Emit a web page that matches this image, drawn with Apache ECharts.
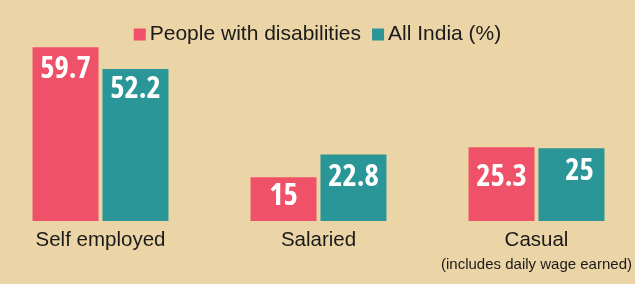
<!DOCTYPE html>
<html>
<head>
<meta charset="utf-8">
<script src="https://cdn.jsdelivr.net/npm/echarts@6/dist/echarts.min.js"></script>
<style>
html,body{margin:0;padding:0;background:#ebd4a5;}
#c{width:635px;height:284px;}
</style>
</head>
<body>
<div id="c"></div>
<script>
const categories = ['Self employed', 'Salaried', 'Casual'];
const casualNote = '(includes daily wage earned)';
const seriesNames = ['People with disabilities', 'All India (%)'];
const disabled = [59.7, 15, 25.3];
const allIndia = [52.2, 22.8, 25];

// label placement tweaks (style only): distance from bar top, horizontal offset
const labelTweaks = [
  [{d: 7, dx: 0}, {d: 3, dx: 0}, {d: 14, dx: 0}],
  [{d: 5, dx: 0}, {d: 7, dx: 0}, {d: 8, dx: 8}]
];

const chart = echarts.init(document.getElementById('c'), null, {renderer: 'canvas'});
const baseLabel = {
  show: true, position: 'insideTop', color: '#ffffff',
  fontStyle: 'condensed', fontFamily: '"Open Sans", sans-serif', fontWeight: 'bold', fontSize: 30.5
};
function buildData(values, s) {
  return values.map(function (v, i) {
    return {value: v, label: {distance: labelTweaks[s][i].d, offset: [labelTweaks[s][i].dx, 0]}};
  });
}
const font = '"Liberation Sans", Arial, sans-serif';
chart.setOption({
  backgroundColor: '#ebd4a5',
  animation: false,
  legend: {
    top: 19, left: 'center', icon: 'rect', itemWidth: 12, itemHeight: 12, itemGap: 11,
    textStyle: {fontFamily: font, fontSize: 21, color: '#1a1a1a', padding: [0, 0, 0, -1]},
    data: seriesNames
  },
  grid: {left: -8.5, width: 654, top: 46.3, height: 174.7, outerBoundsMode: 'none', containLabel: false},
  xAxis: {
    type: 'category', data: categories,
    axisLine: {show: false}, axisTick: {show: false},
    axisLabel: {
      margin: 8, interval: 0,
      formatter: function (v) {
        return v === 'Casual' ? '{a|' + v + '}\n{b|' + casualNote + '}' : '{a|' + v + '}';
      },
      rich: {
        a: {fontFamily: font, fontSize: 20.5, lineHeight: 22, color: '#1a1a1a'},
        b: {fontFamily: font, fontSize: 15, lineHeight: 27, color: '#1a1a1a'}
      }
    }
  },
  yAxis: {type: 'value', min: 0, max: 60, show: false, splitLine: {show: false}},
  series: [
    {name: seriesNames[0], type: 'bar', data: buildData(disabled, 0), barWidth: 66, barGap: '6%',
     itemStyle: {color: '#ef5169'}, label: baseLabel},
    {name: seriesNames[1], type: 'bar', data: buildData(allIndia, 1), barWidth: 66,
     itemStyle: {color: '#2a9697'}, label: baseLabel}
  ]
});
</script>
</body>
</html>
